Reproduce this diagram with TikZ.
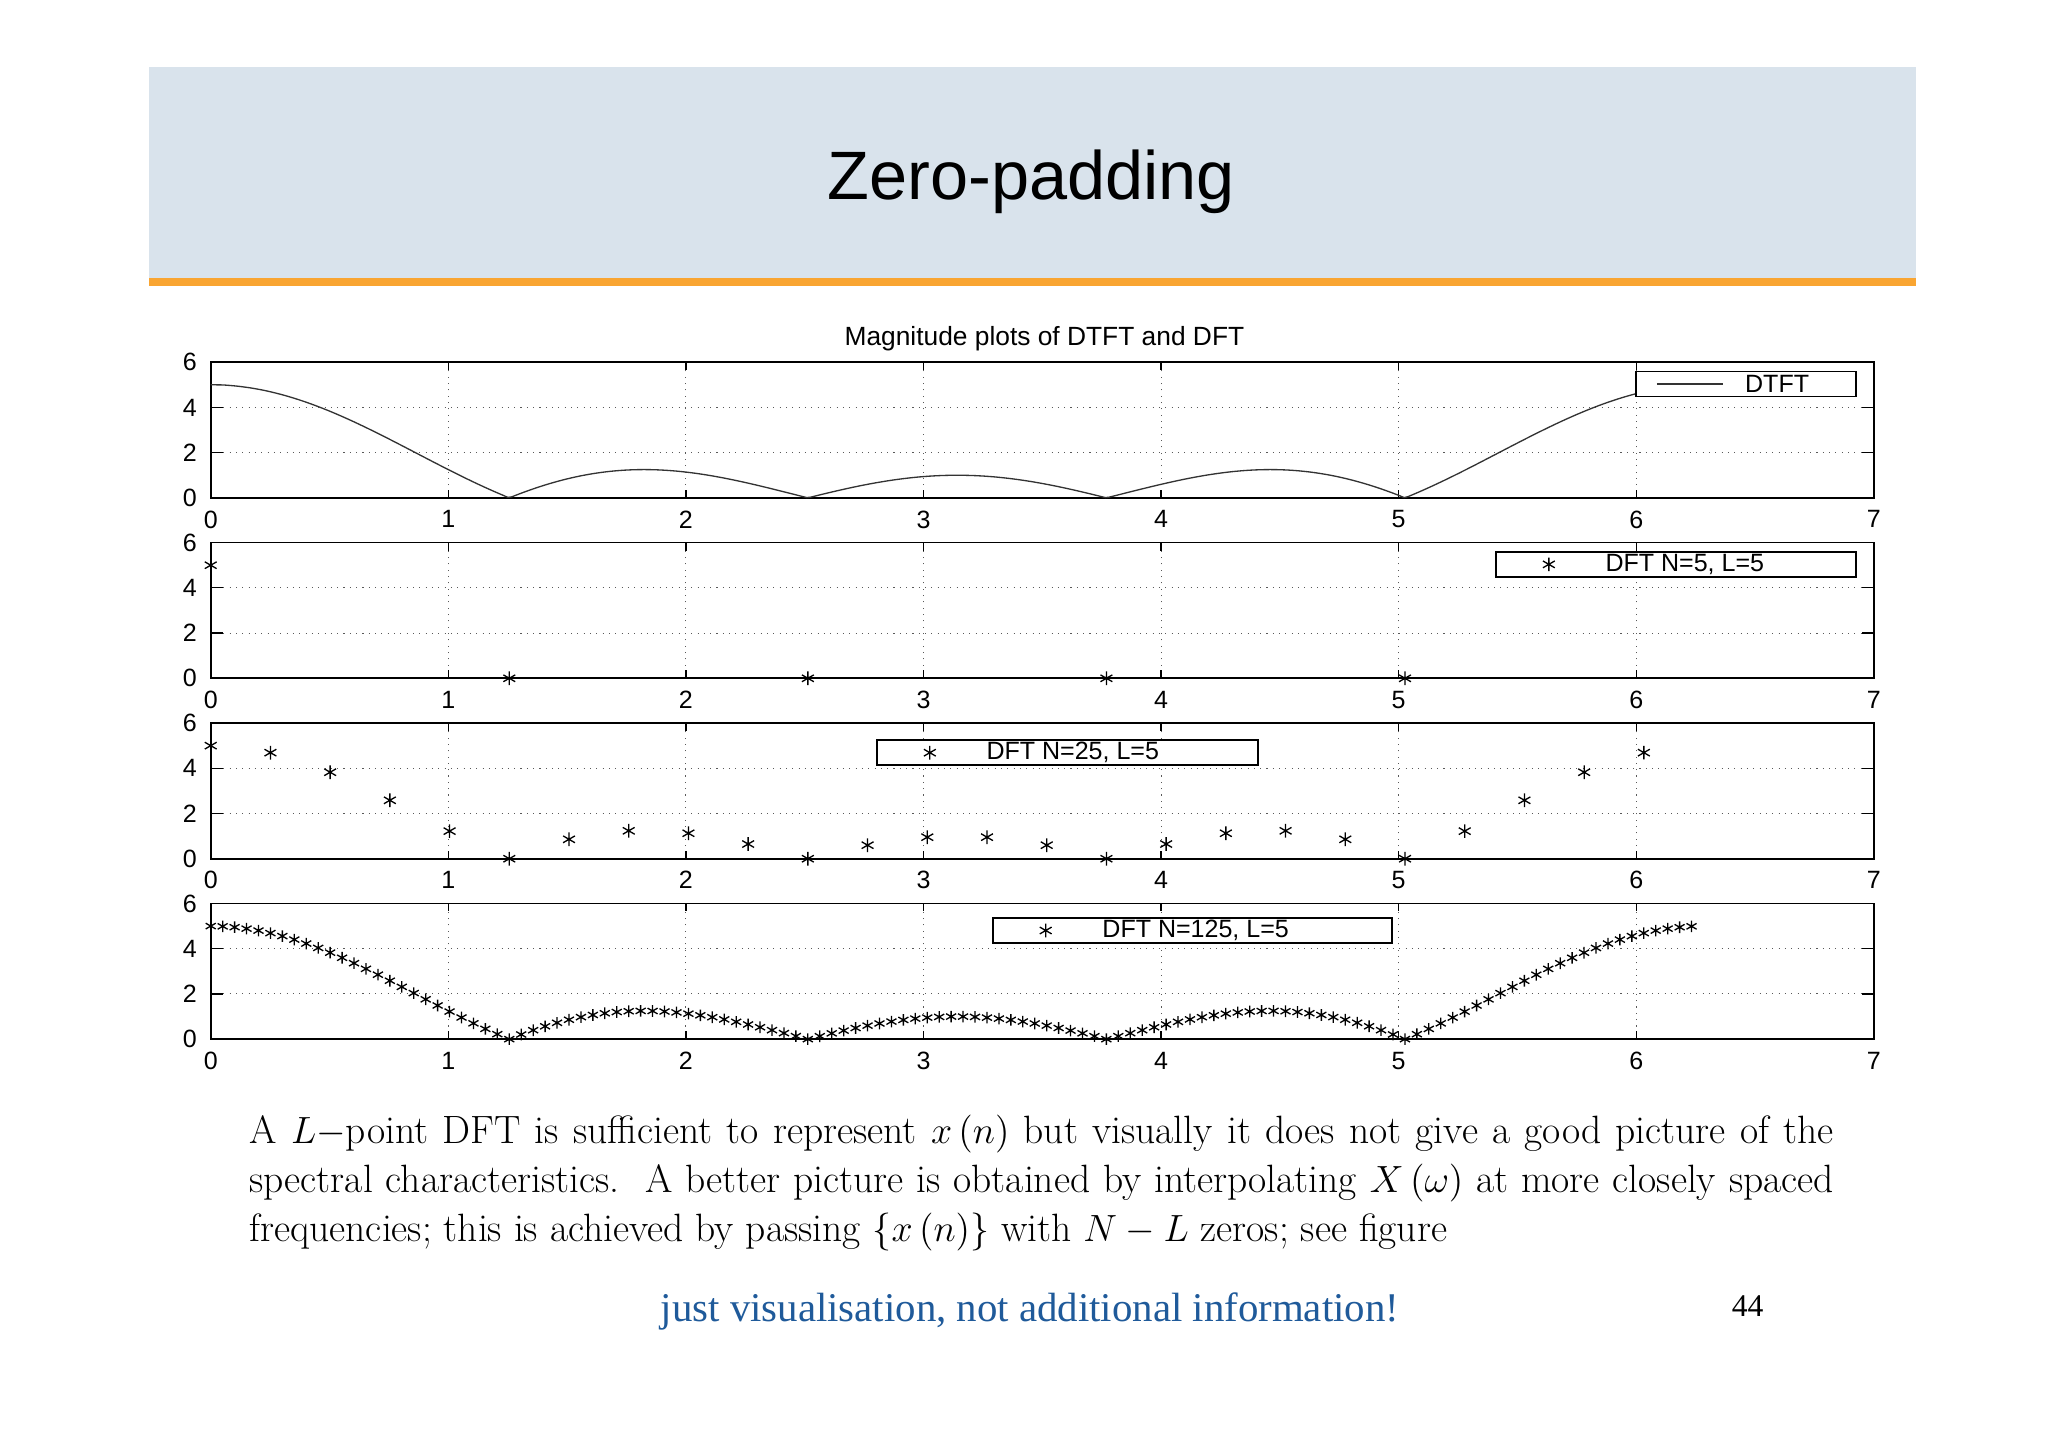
\documentclass[tikz,border=0pt]{standalone}
\usepackage{fontspec}
\setsansfont{Liberation Sans}
\newfontfamily\timesf{Liberation Serif}
\usetikzlibrary{plotmarks}
\definecolor{hdr}{HTML}{D9E3EC}
\definecolor{orng}{HTML}{F9A532}
\definecolor{bluet}{HTML}{1F5A9A}
\tikzset{
  axfont/.style={font=\sffamily\fontsize{9.5}{10}\selectfont},
  gridl/.style={dotted, gray!70!black, line width=0.4pt},
  legbox/.style={draw, line width=0.6pt, fill=white},
  curve/.style={line width=0.5pt, black!80},
  dmark/.style={only marks, mark=asterisk, mark size=2.6pt, mark options={line width=0.5pt}}
}
\newcommand{\axesframe}{%
  \foreach \k in {1,...,6} {\draw[gridl] (\k,0) -- (\k,6);}
  \foreach \k in {2,4} {\draw[gridl] (0,\k) -- (7,\k);}
  \draw[line width=0.6pt] (0,0) rectangle (7,6);
  \foreach \k in {0,...,7} {\draw[line width=0.5pt] (\k,0) -- (\k,0.35) (\k,6) -- (\k,5.65);
    \node[axfont, anchor=north] at (\k,-0.15) {\k};}
  \foreach \k in {0,2,4,6} {\draw[line width=0.5pt] (0,\k) -- (0.05,\k) (7,\k) -- (6.95,\k);
    \node[axfont, anchor=east] at (-0.02,\k) {\k};}
}
\begin{document}
\begin{tikzpicture}[x=0.5pt,y=-0.5pt]
\useasboundingbox (0,0) rectangle (1555,1099);
\fill[white] (0,0) rectangle (1555,1099);
% header
\fill[hdr] (113,51) rectangle (1455,211);
\fill[orng] (113,211) rectangle (1455,217);
\node[font=\sffamily\fontsize{26}{30}\selectfont] (title) at (783,138) {Zero-padding};
\node[font=\sffamily\fontsize{10}{12}\selectfont] (ptitle) at (793,257) {Magnitude plots of DTFT and DFT};
% panel 1
\begin{scope}[shift={(160,378)}, x=90.2pt, y=8.585pt]
  \axesframe
  \draw[curve] (0,5) -- plot[domain=0.01:6.2832, samples=400, smooth] (\x, {abs(sin(deg(2.5*\x))/sin(deg(0.5*\x)))});
\end{scope}
\node[legbox, minimum width=83.5pt, minimum height=9.5pt] (leg1) at (1325.5,291.5) {};
\draw[curve] (1258,291.5) -- (1308,291.5);
\node[axfont, anchor=west] (leg1t) at (1318,291.5) {DTFT};
% panel 2
\begin{scope}[shift={(160,515)}, x=90.2pt, y=8.585pt]
  \axesframe
  \draw plot[dmark] coordinates {(0,5) (1.2566,0) (2.5133,0) (3.7699,0) (5.0265,0)};
\end{scope}
\node[legbox, minimum width=136.5pt, minimum height=9.5pt] (leg2) at (1272.5,428.5) {};
\draw plot[dmark] coordinates {(1176,428.5)};
\node[axfont, anchor=west] (leg2t) at (1212,428.5) {DFT N=5, L=5};
% panel 3
\begin{scope}[shift={(160,652)}, x=90.2pt, y=8.585pt]
  \axesframe
  \draw plot[dmark] coordinates {(0,5)};
  \draw plot[dmark, domain=1:24, samples=24] ({\x*0.251327}, {abs(sin(deg(2.5*\x*0.251327))/sin(deg(0.5*\x*0.251327)))});
\end{scope}
\node[legbox, minimum width=144.5pt, minimum height=9.5pt] (leg3) at (810.5,571.5) {};
\draw plot[dmark] coordinates {(706,571.5)};
\node[axfont, anchor=west] (leg3t) at (742,571.5) {DFT N=25, L=5};
% panel 4
\begin{scope}[shift={(160,789)}, x=90.2pt, y=8.585pt]
  \axesframe
  \draw plot[dmark, mark size=2.2pt] coordinates {(0,5)};
  \draw plot[dmark, mark size=2.2pt, domain=1:124, samples=124] ({\x*0.0502655}, {abs(sin(deg(2.5*\x*0.0502655))/sin(deg(0.5*\x*0.0502655)))});
\end{scope}
\node[legbox, minimum width=151.5pt, minimum height=9.5pt] (leg4) at (905.5,706.5) {};
\draw plot[dmark] coordinates {(794,706.5)};
\node[axfont, anchor=west] (leg4t) at (830,706.5) {DFT N=125, L=5};
% text
\node[anchor=north west, inner sep=0pt, text width=601.5pt, align=justify, font=\fontsize{15}{18.6}\selectfont] (para) at (189,846)
{A $L-$point DFT is sufficient to represent $x\left(n\right)$ but visually it does not give a good picture of the spectral characteristics.\ \ A better picture is obtained by interpolating $X\left(\omega\right)$ at more closely spaced frequencies; this is achieved by passing $\{x\left(n\right)\}$ with $N-L$ zeros; see figure};
\node[font=\timesf\fontsize{15.5}{18}\selectfont, text=bluet] (note) at (782,996) {just visualisation, not additional information!};
\node[font=\timesf\fontsize{12}{14}\selectfont] (pgno) at (1327,992) {44};
\end{tikzpicture}
\end{document}
